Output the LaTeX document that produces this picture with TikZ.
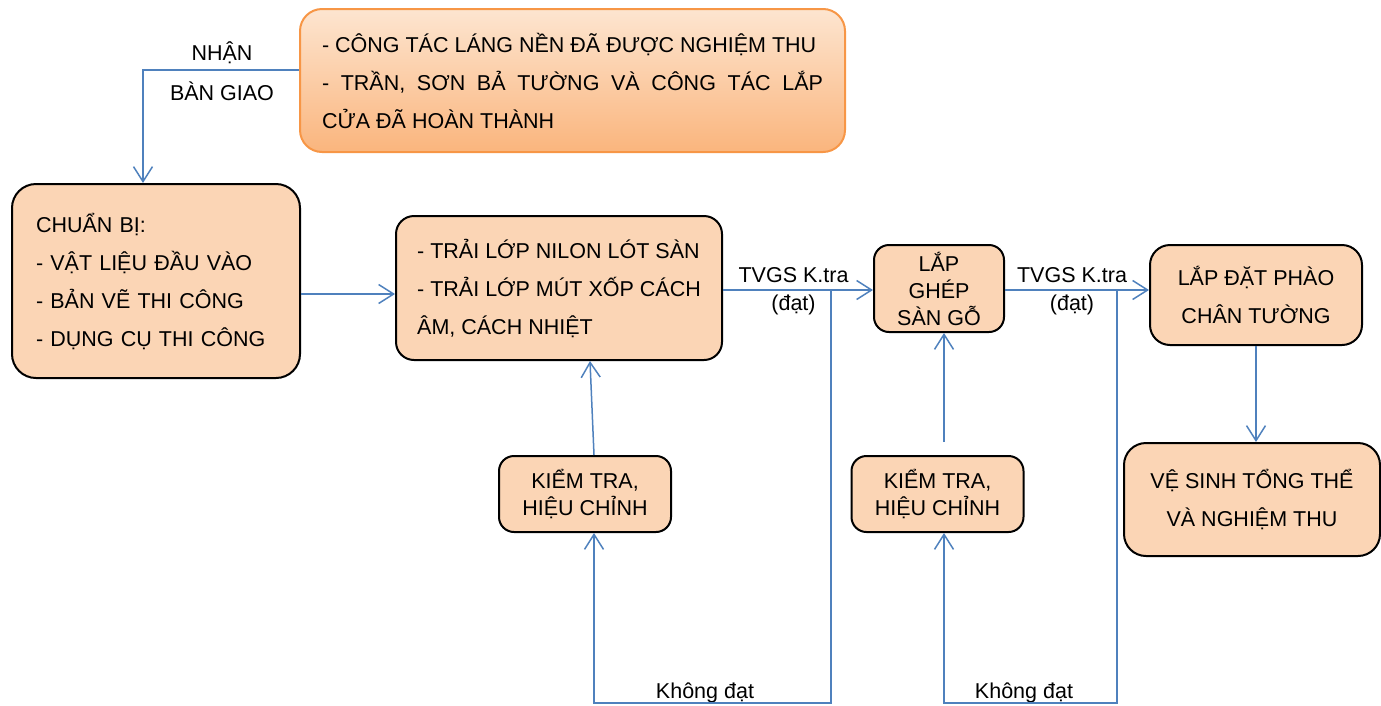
\documentclass[tikz,border=0pt]{standalone}
\usepackage{fontspec}
\setmainfont{Liberation Sans}
\usetikzlibrary{arrows.meta,calc}
\setlength{\parindent}{0pt}

\definecolor{peach}{RGB}{251,213,181}
\definecolor{flowblue}{RGB}{79,129,189}
\definecolor{orangeline}{RGB}{247,150,70}
\definecolor{orangetop}{RGB}{253,229,208}
\definecolor{orangebot}{RGB}{250,181,125}

\tikzset{every picture/.style={line width=0.75pt}}
\tikzset{
  stepbox/.style={draw=black, line width=2pt, fill=peach, rounded corners=15pt,
    font=\fontsize{21.5}{27}\selectfont, align=center, inner sep=0pt},
  bigbox/.style={stepbox, rounded corners=24pt, font=\fontsize{21.5}{38}\selectfont},
  flow/.style={draw=flowblue, line width=1.5pt, -{Straight Barb[length=15pt,width=19pt]}},
  lbl/.style={font=\fontsize{21.5}{26}\selectfont, inner sep=0pt, anchor=base}
}

\begin{document}
\begin{tikzpicture}[x=1pt,y=1pt,yscale=-1,xscale=1]
\useasboundingbox (0,0) rectangle (1381,705);

%Shape: Rounded Rect -- dieu kien ban giao
\node[draw=orangeline, line width=2pt, top color=orangetop, bottom color=orangebot,
  rounded corners=22pt, font=\fontsize{21.5}{38}\selectfont, align=justify,
  text width=501pt, inner xsep=22pt, inner ysep=0pt, minimum height=143pt]
  (dieukien) at (572.5,80.5)
  {- CÔNG TÁC LÁNG NỀN ĐÃ ĐƯỢC NGHIỆM THU\par
   - TRẦN, SƠN BẢ TƯỜNG VÀ CÔNG TÁC LẮP\linebreak CỬA ĐÃ HOÀN THÀNH};

%Shape: Rounded Rect -- chuan bi
\node[bigbox, align=left, text width=240pt, inner xsep=24pt, minimum height=194pt]
  (chuanbi) at (156,281)
  {CHUẨN BỊ:\\- VẬT LIỆU ĐẦU VÀO\\- BẢN VẼ THI CÔNG\\- DỤNG CỤ THI CÔNG};
%Shape: Rounded Rect -- trai lop
\node[bigbox, rounded corners=18pt, align=left, minimum width=326pt, minimum height=144pt]
  (trai) at (559,288)
  {- TRẢI LỚP NILON LÓT SÀN\\- TRẢI LỚP MÚT XỐP CÁCH\\ÂM, CÁCH NHIỆT};
%Shape: Rounded Rect -- lap ghep
\node[stepbox, minimum width=130pt, minimum height=87pt]
  (lapghep) at (939,288.5) {LẮP\\GHÉP\\SÀN GỖ};
%Shape: Rounded Rect -- phao chan tuong
\node[bigbox, rounded corners=20pt, minimum width=212pt, minimum height=100pt]
  (phao) at (1256,295) {LẮP ĐẶT PHÀO\\CHÂN TƯỜNG};
%Shape: Rounded Rect -- ve sinh
\node[bigbox, rounded corners=22pt, minimum width=256pt, minimum height=113pt]
  (vesinh) at (1252,499.5) {VỆ SINH TỔNG THỂ\\VÀ NGHIỆM THU};
%Shape: Rounded Rect -- kiem tra
\node[stepbox, minimum width=172pt, minimum height=76pt]
  (kt1) at (585,494) {KIỂM TRA,\\HIỆU CHỈNH};
\node[stepbox, minimum width=172pt, minimum height=76pt]
  (kt2) at (937.5,494) {KIỂM TRA,\\HIỆU CHỈNH};

% Text Node
\node[lbl] (nhan) at (222,60) {NHẬN};
\node[lbl] (bangiao) at (222,100) {BÀN GIAO};
\node[lbl] (ktra1) at (793.5,282) {TVGS K.tra};
\node[lbl] (dat1) at (793.5,310) {(đạt)};
\node[lbl] (ktra2) at (1072,282) {TVGS K.tra};
\node[lbl] (dat2) at (1072,310) {(đạt)};
\node[lbl] (khong1) at (705,698) {Không đạt};
\node[lbl] (khong2) at (1024,698) {Không đạt};

\coordinate (tach1) at (831,290);
\coordinate (day1) at (831,703);
\coordinate (tach2) at (1117,290);
\coordinate (day2) at (1117,703);

%Straight Lines
\draw[flow] ($(dieukien.west)+(0,-10.5)$) -| ($(chuanbi.north)+(-13,0)$);
\draw[flow] ($(chuanbi.east)+(0,13)$) -- ($(trai.west)+(0,6)$);
\draw[flow] ($(trai.east)+(0,2)$) -- ($(lapghep.west)+(0,1.5)$);
\draw[flow] ($(lapghep.east)+(0,1.5)$) -- ($(phao.west)+(0,-5)$);
\draw[flow] (phao.south) -- (phao.south |- vesinh.north);
\draw[flow] ($(kt1.north)+(9,0)$) -- ($(trai.south)+(31,0)$);
\draw[flow] ($(kt2.north)+(6.5,-13)$) -- ($(lapghep.south)+(5,0)$);
%Loops back
\draw[flow] (tach1) -- (day1) -| ($(kt1.south)+(9,0)$);
\draw[flow] (tach2) -- (day2) -| ($(kt2.south)+(6.5,0)$);

\end{tikzpicture}
\end{document}
